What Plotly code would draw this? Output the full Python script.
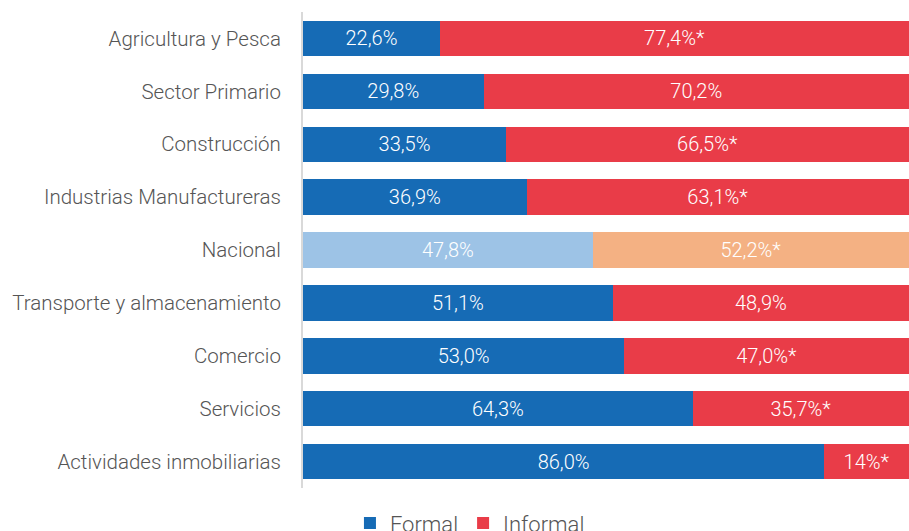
import plotly.graph_objects as go

categories = ["Agricultura y Pesca", "Sector Primario", "Construcción",
              "Industrias Manufactureras", "Nacional", "Transporte y almacenamiento",
              "Comercio", "Servicios", "Actividades inmobiliarias"]
formal = [22.6, 29.8, 33.5, 36.9, 47.8, 51.1, 53.0, 64.3, 86.0]
informal = [77.4, 70.2, 66.5, 63.1, 52.2, 48.9, 47.0, 35.7, 14.0]
informal_star = [True, False, True, True, True, False, True, True, True]
formal_labels = ["22,6%", "29,8%", "33,5%", "36,9%", "47,8%", "51,1%", "53,0%", "64,3%", "86,0%"]
informal_labels = ["77,4%", "70,2%", "66,5%", "63,1%", "52,2%", "48,9%", "47,0%", "35,7%", "14%"]

formal_colors = ["#9DC3E6" if c == "Nacional" else "#166BB5" for c in categories]
informal_colors = ["#F4B183" if c == "Nacional" else "#E93C48" for c in categories]
informal_text = [t + ("*" if s else "") for t, s in zip(informal_labels, informal_star)]

FONT = "Roboto"

fig = go.Figure()
fig.add_trace(go.Bar(
    y=categories, x=formal, orientation="h", name="Formal",
    marker=dict(color=formal_colors, line=dict(width=0)),
    text=formal_labels, textposition="inside", insidetextanchor="middle",
    textangle=0, constraintext="none",
    textfont=dict(color="white", size=20, family=FONT, weight=300),
))
fig.add_trace(go.Bar(
    y=categories, x=informal, orientation="h", name="Informal",
    marker=dict(color=informal_colors, line=dict(width=0)),
    text=informal_text, textposition="inside", insidetextanchor="middle",
    textangle=0, constraintext="none",
    textfont=dict(color="white", size=20, family=FONT, weight=300),
))

fig.update_layout(
    width=909, height=531,
    barmode="stack", bargap=0.33,
    margin=dict(l=303, r=0, t=12, b=43, autoexpand=False),
    plot_bgcolor="white", paper_bgcolor="white",
    font=dict(family=FONT, color="#555555"),
    xaxis=dict(range=[0, 100], visible=False, fixedrange=True),
    yaxis=dict(autorange="reversed", showline=True, linecolor="#D9D9D9", linewidth=2,
               ticks="", ticklabelstandoff=16, automargin=False, fixedrange=True,
               tickfont=dict(size=20.5, color="#555555", family=FONT, weight=300),
               showgrid=False),
    legend=dict(orientation="h", xref="container", yref="paper",
                x=0.517, xanchor="center", y=-0.03, yanchor="top",
                font=dict(size=22, color="#555555", family=FONT, weight=300),
                itemwidth=30, traceorder="normal"),
    showlegend=True,
)

fig.write_html("out.html", config={"displayModeBar": False},
               post_script="document.body.style.margin='0';document.body.style.overflow='hidden';")
